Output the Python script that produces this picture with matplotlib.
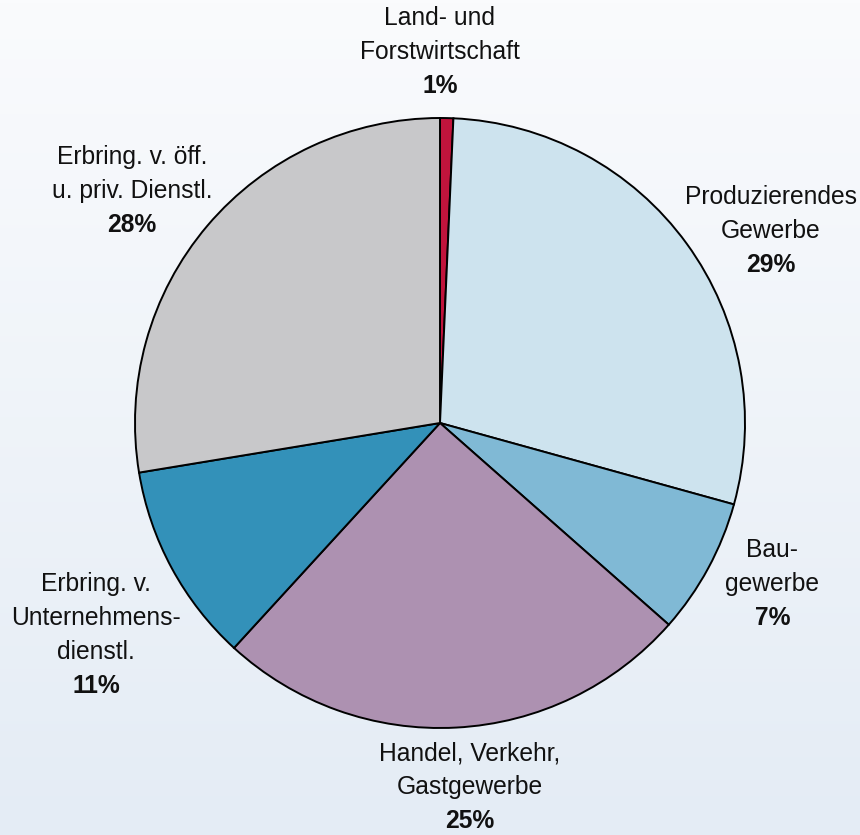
import numpy as np
import matplotlib.pyplot as plt
from matplotlib import font_manager as fm

# Anteile der Wirtschaftsbereiche (in %)
sectors = [
    ["Land- und", "Forstwirtschaft"],
    ["Produzierendes", "Gewerbe"],
    ["Bau-", "gewerbe"],
    ["Handel, Verkehr,", "Gastgewerbe"],
    ["Erbring. v.", "Unternehmens-", "dienstl."],
    ["Erbring. v. öff.", "u. priv. Dienstl."],
]
shares = [0.7, 28.6, 7.2, 25.3, 10.6, 27.6]
colors = ["#c0143c", "#cde3ee", "#80b9d5", "#ad91b1", "#3391b9", "#c8c8ca"]

# label anchor (percent line), in pie radius units
label_pos = [(0.0, 1.105), (1.085, 0.518), (1.09, -0.639),
             (0.098, -1.305), (-1.128, -0.862), (-1.01, 0.649)]


def find_font(name, size=17.7):
    for f in fm.findSystemFonts():
        if f.endswith(name):
            return fm.FontProperties(fname=f, size=size)
    return fm.FontProperties(family='DejaVu Sans', size=size)


regular = find_font('LiberationSans-Regular.ttf')
bold = find_font('LiberationSans-Bold.ttf')

W, H, dpi = 860, 835, 100
fig = plt.figure(figsize=(W / dpi, H / dpi), dpi=dpi)

# background gradient
bg = fig.add_axes([0, 0, 1, 1], zorder=-10)
grad = np.linspace(0, 1, 256)[:, None]
top = np.array([0xfa, 0xfb, 0xfd]) / 255
bot = np.array([0xe4, 0xec, 0xf5]) / 255
img = top + (bot - top) * grad[:, :, None]
bg.imshow(img, aspect='auto', extent=[0, 1, 0, 1])
bg.axis('off')

cx, cy, R = 440, 423, 305
a = 430
ax = fig.add_axes([(cx - a) / W, (H - cy - a) / H, 2 * a / W, 2 * a / H])
ax.axis('off')
ax.patch.set_alpha(0)

ax.pie(shares, colors=colors, startangle=90, counterclock=False, radius=1,
       wedgeprops=dict(edgecolor='black', linewidth=1.4))
ax.set_xlim(-a / R, a / R)
ax.set_ylim(-a / R, a / R)
ax.set_aspect('auto')

step = 34 * 72 / dpi
for lines, val, (x, y) in zip(sectors, shares, label_pos):
    ax.text(x, y, f"{val:.0f}%", ha='center', va='center',
            fontproperties=bold, color='#111111')
    n = len(lines)
    for i, line in enumerate(lines):
        ax.annotate(line, (x, y), xytext=(0, step * (n - i)),
                    textcoords='offset points', ha='center', va='center',
                    fontproperties=regular, color='#111111')

fig.savefig("out.png", dpi=dpi)
